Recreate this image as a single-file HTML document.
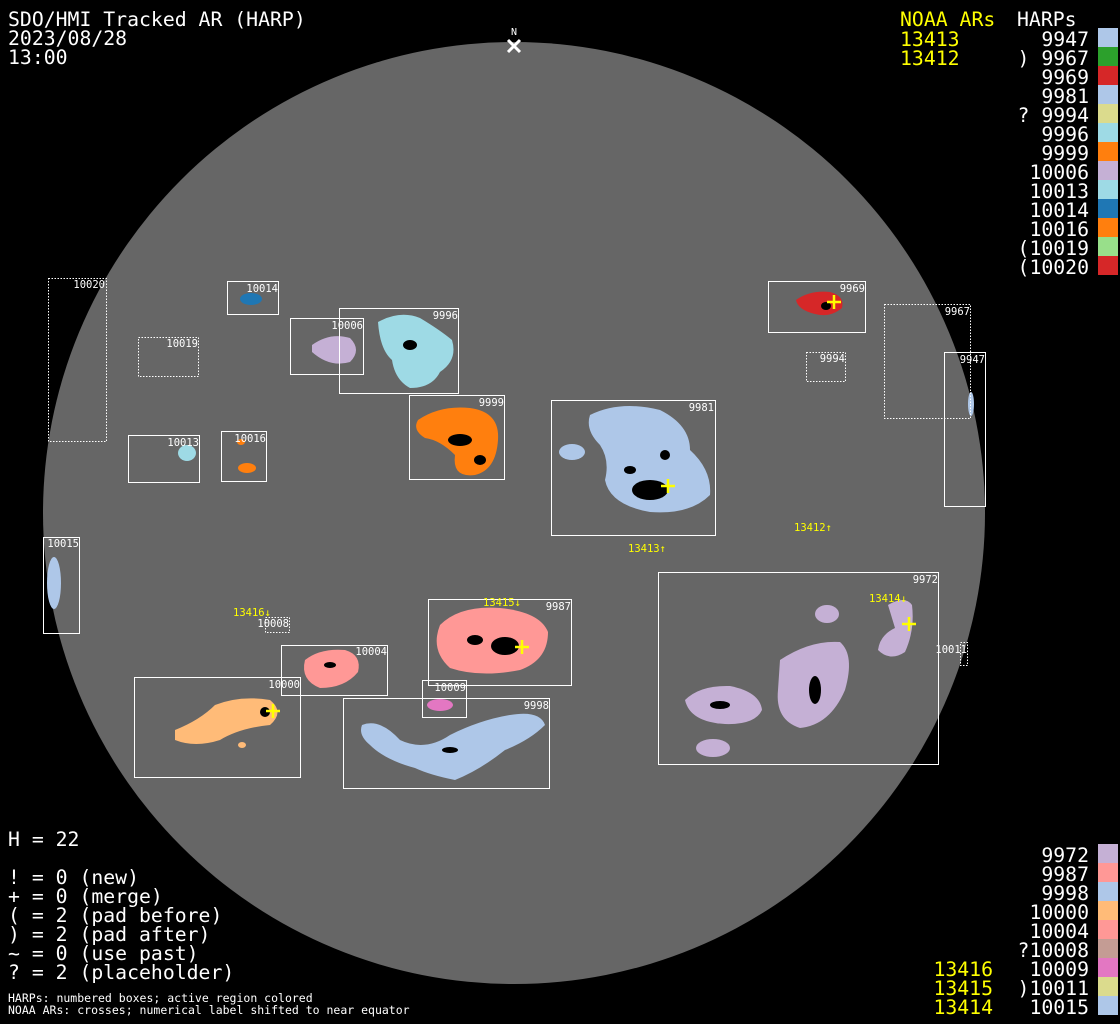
<!DOCTYPE html>
<html><head><meta charset="utf-8"><style>
html,body{margin:0;padding:0;background:#000;}
svg{display:block;}
text{font-family:"DejaVu Sans Mono","Liberation Mono",monospace;}
</style></head><body>
<svg width="1120" height="1024" viewBox="0 0 1120 1024" xmlns="http://www.w3.org/2000/svg">
<rect width="1120" height="1024" fill="#000"/>
<circle cx="514" cy="513" r="471" fill="#666"/>
<!-- N marker -->
<text x="514" y="35" fill="#fff" font-size="10" text-anchor="middle">N</text>
<path d="M508 40 L520 52 M520 40 L508 52" stroke="#fff" stroke-width="3"/>

<!-- blobs -->
<g>
<ellipse cx="251" cy="299" rx="11" ry="6" fill="#1f77b4"/>
<path d="M312 345 Q330 332 350 338 Q362 350 350 362 Q330 368 312 352 Z" fill="#c5b0d5"/>
<path d="M378 322 Q400 310 420 318 Q440 330 452 340 Q458 360 440 372 Q432 388 410 388 Q395 380 392 360 Q380 350 378 322 Z" fill="#9edae5"/>
<path d="M418 420 Q440 405 470 408 Q500 412 498 440 Q496 470 475 475 Q452 478 455 455 Q440 440 425 438 Q412 430 418 420 Z" fill="#ff7f0e"/>
<ellipse cx="187" cy="453" rx="9" ry="8" fill="#9edae5"/>
<ellipse cx="247" cy="468" rx="9" ry="5" fill="#ff7f0e"/>
<ellipse cx="241" cy="442" rx="4" ry="3" fill="#ff7f0e"/>
<path d="M590 415 Q620 400 660 410 Q690 425 690 450 Q712 470 710 495 Q690 515 650 512 Q610 505 605 480 Q610 460 600 445 Q585 430 590 415 Z" fill="#aec7e8"/>
<ellipse cx="572" cy="452" rx="13" ry="8" fill="#aec7e8"/>
<path d="M796 300 Q810 290 830 292 Q845 296 842 308 Q830 318 815 314 Q798 310 796 300 Z" fill="#d62728"/>
<ellipse cx="971" cy="404" rx="3" ry="12" fill="#aec7e8"/>
<ellipse cx="54" cy="583" rx="7" ry="26" fill="#aec7e8"/>
<path d="M440 625 Q460 605 500 608 Q540 612 548 632 Q548 660 520 670 Q480 678 450 668 Q430 650 440 625 Z" fill="#ff9896"/>
<path d="M305 660 Q320 648 345 650 Q362 655 358 672 Q345 688 320 688 Q300 680 305 660 Z" fill="#ff9896"/>
<path d="M175 730 Q200 720 215 705 Q240 695 270 700 Q285 712 270 725 Q240 728 220 740 Q195 748 175 740 Z" fill="#ffbb78"/>
<ellipse cx="242" cy="745" rx="4" ry="3" fill="#ffbb78"/>
<ellipse cx="440" cy="705" rx="13" ry="6" fill="#e377c2"/>
<path d="M362 725 Q380 718 400 740 Q425 752 450 735 Q480 720 510 715 Q540 710 545 725 Q530 740 505 750 Q480 770 455 780 Q430 775 415 768 Q385 760 370 745 Q358 735 362 725 Z" fill="#aec7e8"/>
<path d="M685 700 Q700 685 730 686 Q760 692 762 710 Q755 725 725 724 Q690 722 685 700 Z" fill="#c5b0d5"/>
<ellipse cx="713" cy="748" rx="17" ry="9" fill="#c5b0d5"/>
<path d="M780 660 Q810 640 840 642 Q855 655 845 690 Q830 725 800 728 Q775 720 778 690 Z" fill="#c5b0d5"/>
<ellipse cx="827" cy="614" rx="12" ry="9" fill="#c5b0d5"/>
<path d="M888 605 Q905 595 912 605 Q915 630 905 652 Q890 662 878 650 Q880 635 895 628 Z" fill="#c5b0d5"/>
</g>
<!-- sunspots -->
<g fill="#000">
<ellipse cx="650" cy="490" rx="18" ry="10"/><ellipse cx="630" cy="470" rx="6" ry="4"/><ellipse cx="665" cy="455" rx="5" ry="5"/>
<ellipse cx="505" cy="646" rx="14" ry="9"/><ellipse cx="475" cy="640" rx="8" ry="5"/>
<ellipse cx="265" cy="712" rx="5" ry="5"/><ellipse cx="826" cy="306" rx="5" ry="4"/>
<ellipse cx="460" cy="440" rx="12" ry="6"/><ellipse cx="480" cy="460" rx="6" ry="5"/>
<ellipse cx="410" cy="345" rx="7" ry="5"/><ellipse cx="815" cy="690" rx="6" ry="14"/>
<ellipse cx="720" cy="705" rx="10" ry="4"/><ellipse cx="450" cy="750" rx="8" ry="3"/>
<ellipse cx="330" cy="665" rx="6" ry="3"/>
</g>

<!-- boxes -->
<g fill="none" stroke="#fff" stroke-width="1">
<rect x="48.5" y="278.5" width="58" height="163" stroke-dasharray="1.5 1.5"/>
<rect x="227.5" y="281.5" width="51" height="33"/>
<rect x="138.5" y="337.5" width="60" height="39" stroke-dasharray="1.5 1.5"/>
<rect x="290.5" y="318.5" width="73" height="56"/>
<rect x="339.5" y="308.5" width="119" height="85"/>
<rect x="409.5" y="395.5" width="95" height="84"/>
<rect x="128.5" y="435.5" width="71" height="47"/>
<rect x="221.5" y="431.5" width="45" height="50"/>
<rect x="551.5" y="400.5" width="164" height="135"/>
<rect x="768.5" y="281.5" width="97" height="51"/>
<rect x="806.5" y="352.5" width="39" height="29" stroke-dasharray="1.5 1.5"/>
<rect x="884.5" y="304.5" width="86" height="114" stroke-dasharray="1.5 1.5"/>
<rect x="944.5" y="352.5" width="41" height="154"/>
<rect x="43.5" y="537.5" width="36" height="96"/>
<rect x="265.5" y="617.5" width="24" height="15" stroke-dasharray="1.5 1.5"/>
<rect x="428.5" y="599.5" width="143" height="86"/>
<rect x="281.5" y="645.5" width="106" height="50"/>
<rect x="134.5" y="677.5" width="166" height="100"/>
<rect x="422.5" y="680.5" width="44" height="37"/>
<rect x="343.5" y="698.5" width="206" height="90"/>
<rect x="658.5" y="572.5" width="280" height="192"/>
<rect x="960.5" y="642.5" width="7" height="23" stroke-dasharray="1.5 1.5"/>
</g>
<g fill="#fff" font-size="10.5" text-anchor="end">
<text x="105" y="288">10020</text><text x="278" y="292">10014</text><text x="198" y="347">10019</text>
<text x="363" y="329">10006</text><text x="458" y="319">9996</text><text x="504" y="406">9999</text>
<text x="199" y="446">10013</text><text x="266" y="442">10016</text><text x="714" y="411">9981</text>
<text x="865" y="292">9969</text><text x="845" y="362">9994</text><text x="970" y="315">9967</text>
<text x="985" y="363">9947</text><text x="79" y="547">10015</text><text x="289" y="627">10008</text>
<text x="571" y="610">9987</text><text x="387" y="655">10004</text><text x="300" y="688">10000</text>
<text x="466" y="691">10009</text><text x="549" y="709">9998</text><text x="938" y="583">9972</text>
<text x="967" y="653">10011</text>
</g>
<!-- crosses -->
<g stroke="#ff0" stroke-width="2.5">
<path d="M827 302h14M834 295v14"/><path d="M661 486h14M668 479v14"/><path d="M515 647h14M522 640v14"/>
<path d="M266 711h14M273 704v14"/><path d="M902 624h14M909 617v14"/>
</g>
<g fill="#ff0" font-size="10.5">
<text x="794" y="531">13412↑</text><text x="628" y="552">13413↑</text>
<text x="233" y="616">13416↓</text><text x="483" y="606">13415↓</text><text x="869" y="602">13414↓</text>
</g>

<!-- header -->
<g fill="#fff" font-size="19.8">
<text x="8" y="26">SDO/HMI Tracked AR (HARP)</text>
<text x="8" y="45">2023/08/28</text>
<text x="8" y="64">13:00</text>
<text x="1017" y="26">HARPs</text>
</g>
<g fill="#ff0" font-size="19.8"><text x="900" y="26">NOAA ARs</text><text x="900" y="46">13413</text><text x="900" y="65">13412</text></g>
<g fill="#fff" font-size="19.8" text-anchor="end">
<text x="1089" y="46">9947</text><text x="1089" y="65">) 9967</text><text x="1089" y="84">9969</text>
<text x="1089" y="103">9981</text><text x="1089" y="122">? 9994</text><text x="1089" y="141">9996</text>
<text x="1089" y="160">9999</text><text x="1089" y="179">10006</text><text x="1089" y="198">10013</text>
<text x="1089" y="217">10014</text><text x="1089" y="236">10016</text><text x="1089" y="255">(10019</text>
<text x="1089" y="274">(10020</text>
</g>
<g>
<rect x="1098" y="28" width="20" height="19" fill="#aec7e8"/><rect x="1098" y="47" width="20" height="19" fill="#2ca02c"/>
<rect x="1098" y="66" width="20" height="19" fill="#d62728"/><rect x="1098" y="85" width="20" height="19" fill="#aec7e8"/>
<rect x="1098" y="104" width="20" height="19" fill="#dbdb8d"/><rect x="1098" y="123" width="20" height="19" fill="#9edae5"/>
<rect x="1098" y="142" width="20" height="19" fill="#ff7f0e"/><rect x="1098" y="161" width="20" height="19" fill="#c5b0d5"/>
<rect x="1098" y="180" width="20" height="19" fill="#9edae5"/><rect x="1098" y="199" width="20" height="19" fill="#1f77b4"/>
<rect x="1098" y="218" width="20" height="19" fill="#ff7f0e"/><rect x="1098" y="237" width="20" height="19" fill="#98df8a"/>
<rect x="1098" y="256" width="20" height="19" fill="#d62728"/>
</g>
<!-- bottom right legend -->
<g fill="#fff" font-size="19.8" text-anchor="end">
<text x="1089" y="862">9972</text><text x="1089" y="881">9987</text><text x="1089" y="900">9998</text>
<text x="1089" y="919">10000</text><text x="1089" y="938">10004</text><text x="1089" y="957">?10008</text>
<text x="1089" y="976">10009</text><text x="1089" y="995">)10011</text><text x="1089" y="1014">10015</text>
</g>
<g fill="#ff0" font-size="19.8" text-anchor="end">
<text x="993" y="976">13416</text><text x="993" y="995">13415</text><text x="993" y="1014">13414</text>
</g>
<g>
<rect x="1098" y="844" width="20" height="19" fill="#c5b0d5"/><rect x="1098" y="863" width="20" height="19" fill="#ff9896"/>
<rect x="1098" y="882" width="20" height="19" fill="#aec7e8"/><rect x="1098" y="901" width="20" height="19" fill="#ffbb78"/>
<rect x="1098" y="920" width="20" height="19" fill="#ff9896"/><rect x="1098" y="939" width="20" height="19" fill="#c49c94"/>
<rect x="1098" y="958" width="20" height="19" fill="#e377c2"/><rect x="1098" y="977" width="20" height="19" fill="#dbdb8d"/>
<rect x="1098" y="996" width="20" height="19" fill="#aec7e8"/>
</g>
<!-- bottom left -->
<g fill="#fff" font-size="19.8">
<text x="8" y="846">H = 22</text>
<text x="8" y="884">! = 0 (new)</text>
<text x="8" y="903">+ = 0 (merge)</text>
<text x="8" y="922">( = 2 (pad before)</text>
<text x="8" y="941">) = 2 (pad after)</text>
<text x="8" y="960">~ = 0 (use past)</text>
<text x="8" y="979">? = 2 (placeholder)</text>
</g>
<g fill="#fff" font-size="11.5">
<text x="8" y="1002">HARPs: numbered boxes; active region colored</text>
<text x="8" y="1014">NOAA ARs: crosses; numerical label shifted to near equator</text>
</g>
</svg>
</body></html>
